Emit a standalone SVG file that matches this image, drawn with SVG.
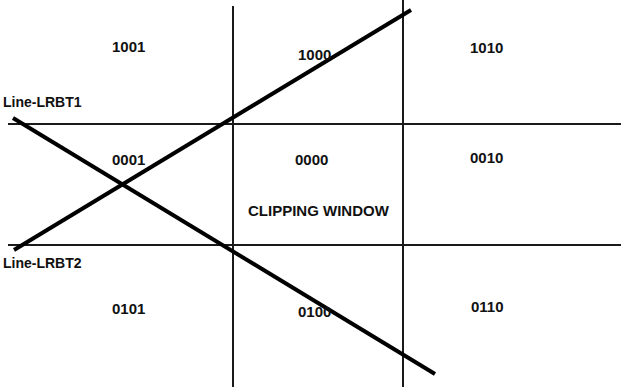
<svg xmlns="http://www.w3.org/2000/svg" width="621" height="387" viewBox="0 0 621 387">
<style>
.grid{stroke:#1a1a1a;stroke-width:2;fill:none}
.clip{stroke:#000;stroke-width:4;fill:none;stroke-linecap:butt}
.code{font-family:"Liberation Sans",Arial,sans-serif;font-weight:bold;font-size:15px;fill:#111}
.lbl{font-family:"Liberation Sans",Arial,sans-serif;font-weight:bold;font-size:14px;fill:#111}
</style>
<rect width="621" height="387" fill="#fff"/>
<g id="connectors">
<line class="grid" x1="233" y1="6" x2="233" y2="387"/>
<line class="grid" x1="403" y1="0" x2="403" y2="387"/>
<line class="grid" x1="8" y1="124" x2="621" y2="124"/>
<line class="grid" x1="8" y1="245" x2="621" y2="245"/>
<line class="clip" x1="13" y1="118" x2="435" y2="374"/>
<line class="clip" x1="14" y1="250" x2="411" y2="10"/>
</g>
<g id="r1001"><text class="code" x="112" y="52">1001</text></g>
<g id="r1000"><text class="code" x="298" y="60">1000</text></g>
<g id="r1010"><text class="code" x="470" y="53">1010</text></g>
<g id="r0001"><text class="code" x="112" y="165">0001</text></g>
<g id="r0000"><text class="code" x="295" y="165">0000</text></g>
<g id="r0010"><text class="code" x="470" y="163">0010</text></g>
<g id="window"><text class="code" x="248" y="216">CLIPPING WINDOW</text></g>
<g id="r0101"><text class="code" x="112" y="314">0101</text></g>
<g id="r0100"><text class="code" x="298" y="317">0100</text></g>
<g id="r0110"><text class="code" x="471" y="312">0110</text></g>
<g id="line1"><text class="lbl" x="3" y="107">Line-LRBT1</text></g>
<g id="line2"><text class="lbl" x="3" y="268">Line-LRBT2</text></g>
</svg>
